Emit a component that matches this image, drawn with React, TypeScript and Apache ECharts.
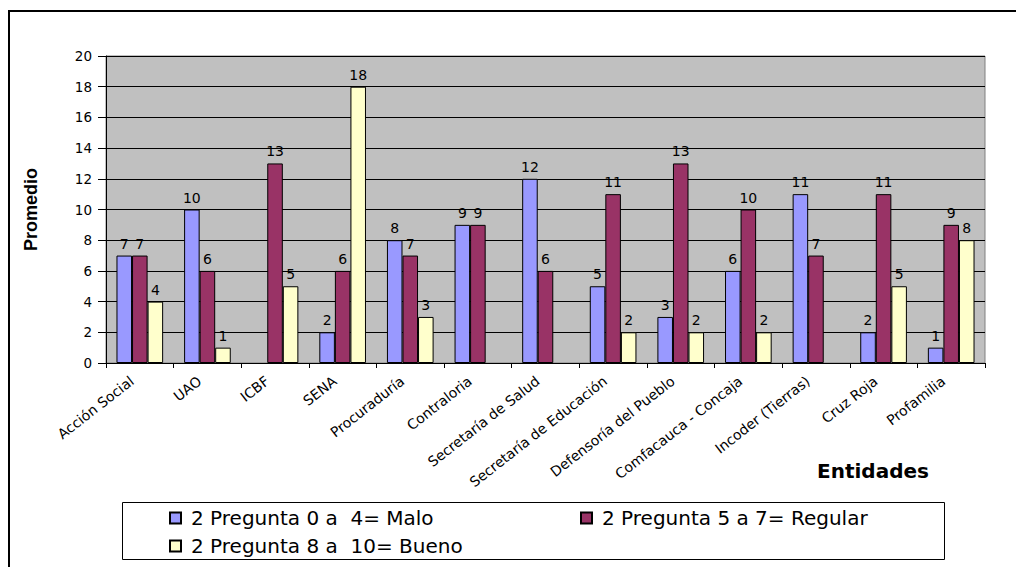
import React, { useEffect, useRef } from "react";
import * as echarts from "echarts";

const categories = [
  "Acción Social",
  "UAO",
  "ICBF",
  "SENA",
  "Procuraduría",
  "Contraloria",
  "Secretaría de Salud",
  "Secretaría de Educación",
  "Defensoría del Pueblo",
  "Comfacauca - Concaja",
  "Incoder (Tierras)",
  "Cruz Roja",
  "Profamilia",
];
const malo = [7, 10, null, 2, 8, 9, 12, 5, 3, 6, 11, 2, 1];
const regular = [7, 6, 13, 6, 7, 9, 6, 11, 13, 10, 7, 11, 9];
const bueno = [4, 1, 5, 18, 3, null, null, 2, 2, 2, null, 5, 8];
const seriesNames = [
  "2 Pregunta 0 a  4= Malo",
  "2 Pregunta 5 a 7= Regular",
  "2 Pregunta 8 a  10= Bueno",
];
const seriesColors = ["#9999FF", "#993366", "#FFFFCC"];
const yMin = 0;
const yMax = 20;
const yInterval = 2;

const FONT = '"DejaVu Sans", sans-serif';

export default function App() {
  const ref = useRef<HTMLDivElement>(null);
  useEffect(() => {
    if (!ref.current) return;
    const chart = echarts.init(ref.current, null, { renderer: "svg" });
    const values = [malo, regular, bueno];
    const legendCommon = {
      orient: "horizontal",
      itemWidth: 11,
      itemHeight: 11,
      itemGap: 0,
      padding: 0,
      icon: "rect",
      textStyle: {
        fontFamily: FONT,
        fontSize: 20,
        color: "#000",
        padding: [0, 0, 0, 5],
      },
    };
    chart.setOption({
      animation: false,
      backgroundColor: "#fff",
      grid: {
        left: 106,
        top: 56,
        right: 31,
        bottom: 204,
        show: true,
        backgroundColor: "#C0C0C0",
        borderColor: "#808080",
        borderWidth: 1,
      },
      legend: [
        { ...legendCommon, data: [seriesNames[0]], left: 169, top: 508 },
        { ...legendCommon, data: [seriesNames[1]], left: 580, top: 508 },
        { ...legendCommon, data: [seriesNames[2]], left: 169, top: 536 },
      ],
      xAxis: {
        type: "category",
        data: categories,
        boundaryGap: true,
        axisLine: { show: true, lineStyle: { color: "#000", width: 1 } },
        axisTick: {
          show: true,
          alignWithLabel: false,
          length: 5,
          lineStyle: { color: "#000" },
        },
        axisLabel: {
          interval: 0,
          rotate: 38,
          margin: 10,
          padding: [0, 10, 0, 0],
          fontFamily: FONT,
          fontSize: 14,
          color: "#000",
        },
        splitLine: { show: false },
      },
      yAxis: {
        type: "value",
        min: yMin,
        max: yMax,
        interval: yInterval,
        name: "Promedio",
        nameLocation: "middle",
        nameRotate: 90,
        nameGap: 66,
        nameTextStyle: {
          fontFamily: '"Liberation Sans", Arial, sans-serif',
          fontWeight: "bold",
          fontSize: 18,
          color: "#000",
        },
        axisLine: { show: true, lineStyle: { color: "#000", width: 1 } },
        axisTick: { show: true, length: 8, lineStyle: { color: "#000" } },
        axisLabel: {
          margin: 14,
          fontFamily: FONT,
          fontSize: 13.5,
          color: "#000",
        },
        splitLine: { show: true, lineStyle: { color: "#000", width: 1 } },
      },
      series: seriesNames.map((name, i) => ({
        name,
        type: "bar",
        data: values[i],
        barGap: "0%",
        barCategoryGap: "31%",
        itemStyle: {
          color: seriesColors[i],
          borderColor: "#000",
          borderWidth: 1,
        },
        label: {
          show: true,
          position: "top",
          distance: 5,
          fontFamily: FONT,
          fontSize: 14,
          color: "#000",
        },
      })),
      graphic: [
        {
          type: "rect",
          shape: { x: 9, y: 11, width: 1100, height: 600 },
          style: { fill: "none", stroke: "#000", lineWidth: 2 },
          silent: true,
        },
        {
          type: "rect",
          shape: { x: 122.5, y: 502.5, width: 822, height: 57 },
          style: { fill: "none", stroke: "#000", lineWidth: 1 },
          silent: true,
        },
        {
          type: "text",
          x: 873,
          y: 471,
          style: {
            text: "Entidades",
            fontFamily: FONT,
            fontWeight: "bold",
            fontSize: 20,
            fill: "#000",
            align: "center",
            verticalAlign: "middle",
          },
        },
      ],
    });
    return () => chart.dispose();
  }, []);
  return (
    <div
      ref={ref}
      style={{ position: "fixed", left: 0, top: 0, width: 1016, height: 567 }}
    />
  );
}
